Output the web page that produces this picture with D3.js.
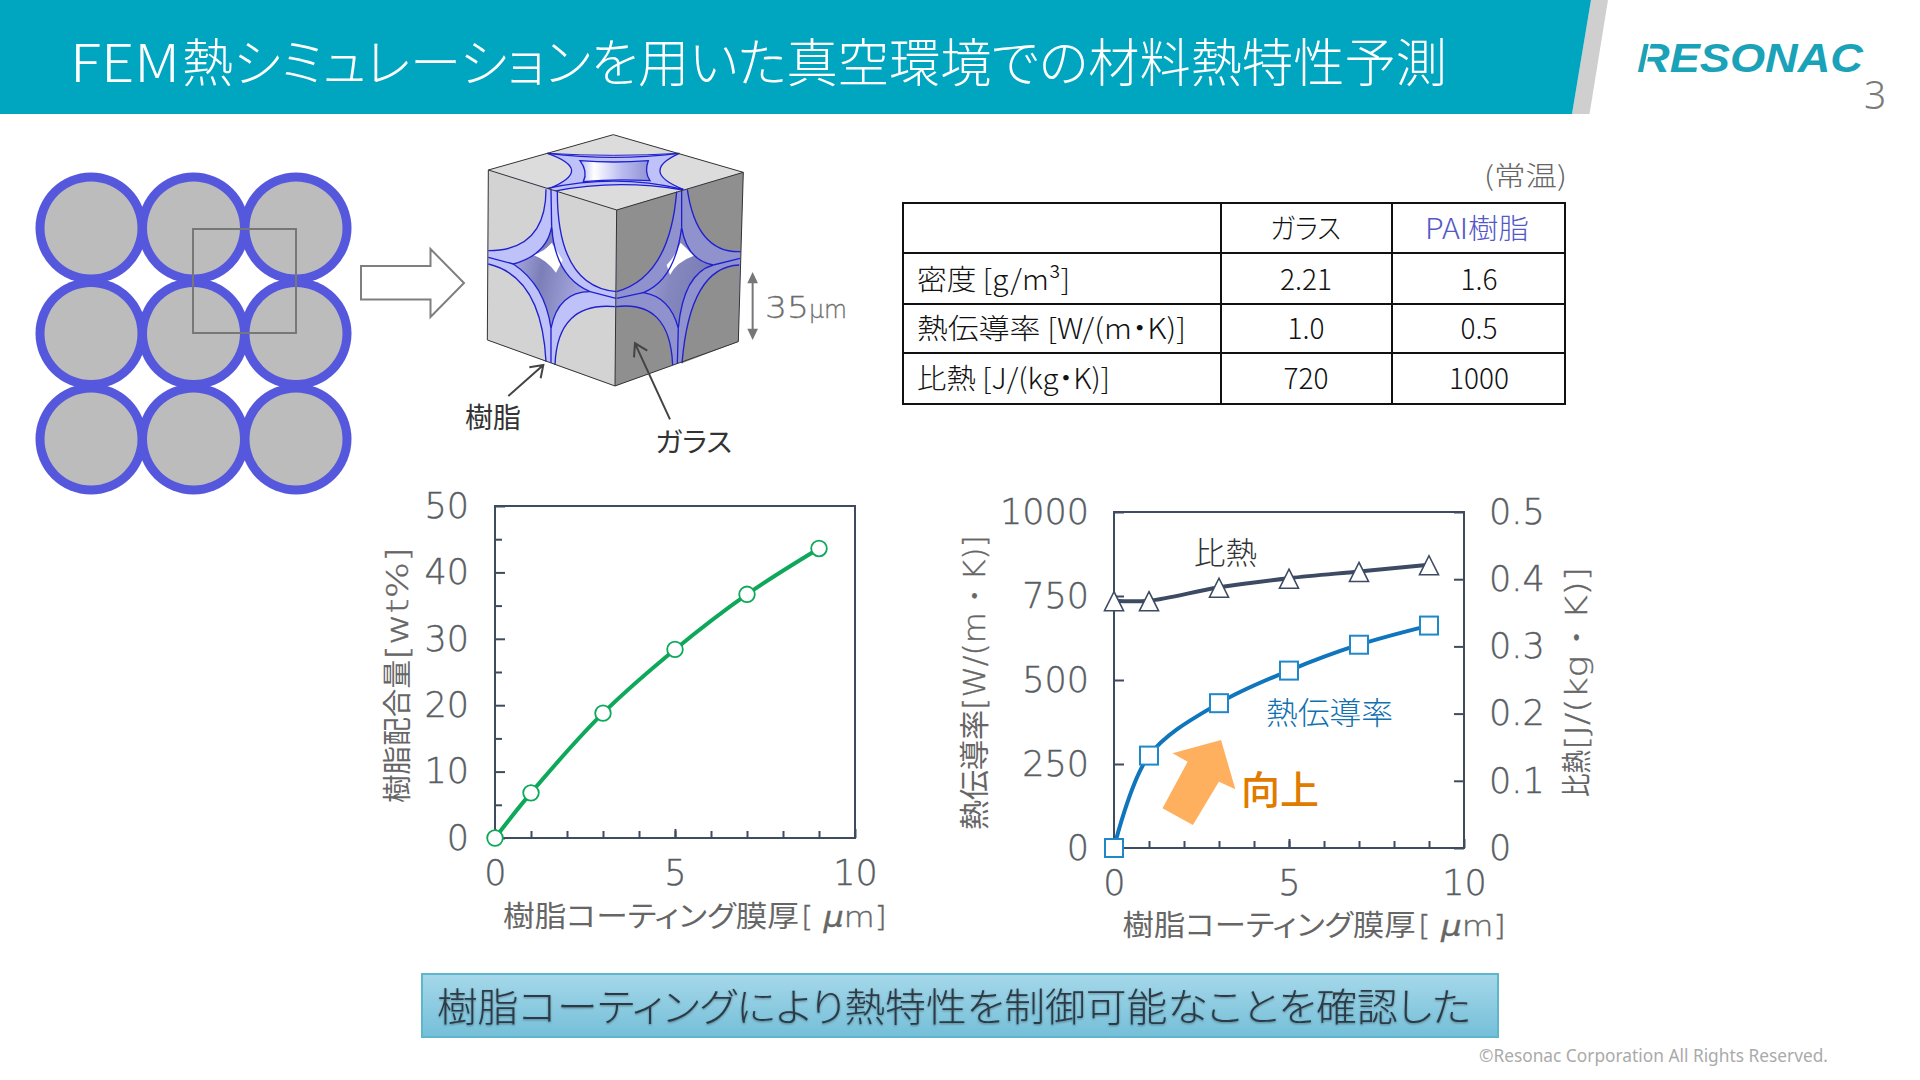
<!DOCTYPE html>
<html lang="ja"><head><meta charset="utf-8">
<script src="https://cdnjs.cloudflare.com/ajax/libs/d3/7.8.5/d3.min.js"></script>
<style>
html,body{margin:0;padding:0;background:#fff;overflow:hidden}
svg{display:block}
text{font-family:"Noto Sans CJK JP","Noto Sans",sans-serif;font-weight:400;font-feature-settings:"palt"}
</style></head><body>
<svg id="c" width="1920" height="1080" xmlns="http://www.w3.org/2000/svg"></svg>
<script>
// ---- data ----
const titlePrefix = "FEM";
const titleText = "熱シミュレーションを用いた真空環境での材料熱特性予測";
const conclusionText = "樹脂コーティングにより熱特性を制御可能なことを確認した";
const tableCols = ["", "ガラス", "PAI樹脂"];
const tableRowLabels = ["密度 [g/m³]", "熱伝導率 [W/(m・K)]", "比熱 [J/(kg・K)]"];
const glassProps = ["2.21", "1.0", "720"];
const resinProps = ["1.6", "0.5", "1000"];
const thickness = [0, 1, 3, 5, 7, 9];
const resinWt = [0, 6.8, 18.8, 28.4, 36.7, 43.6];
const specificHeat = [736, 736, 776, 803, 823, 843];
const conductivity = [0, 275, 431, 528, 605, 662];
const xTicks = [0, 5, 10];
const xMinor = [1, 2, 3, 4, 5, 6, 7, 8, 9];
const wtTicks = [0, 10, 20, 30, 40, 50];
const wtMinor = [5, 15, 25, 35, 45];
const leftTicks = [0, 250, 500, 750, 1000];
const rightTicks = [0, 0.1, 0.2, 0.3, 0.4, 0.5];

const svg = d3.select("#c");
const defs = svg.append("defs");
function grad(id, stops, x2, y2){
  const g = defs.append("linearGradient").attr("id", id).attr("x1",0).attr("y1",0).attr("x2",x2).attr("y2",y2);
  stops.forEach(s=>g.append("stop").attr("offset",s[0]).attr("stop-color",s[1]));
}
grad("boxG",[[0,"#A6D8EA"],[1,"#74BFD8"]],0,1);
grad("tubeL",[[0,"#AEB0E4"],[0.45,"#7C7EB8"],[1,"#A8AAE0"]],1,0.25);
grad("tubeR",[[0,"#A8AAE0"],[0.5,"#8587BF"],[1,"#7A7CB4"]],1,0.3);
grad("topG",[[0,"#B4B6EE"],[0.2,"#FFFFFF"],[0.6,"#B9BBEF"],[1,"#8F91D4"]],1,0);

const LATIN='"DejaVu Sans",sans-serif';
function label(p, x, y, s, o={}){
  const t = p.append("text").attr("x",x).attr("y",y).text(s)
    .attr("font-size",o.size||26).attr("fill",o.fill||"#222")
    .attr("text-anchor",o.anchor||"start");
  if(o.len) t.attr("textLength",o.len).attr("lengthAdjust",o.adjust||"spacingAndGlyphs");
  if(o.weight) t.style("font-weight",o.weight);
  if(o.family) t.style("font-family",o.family);
  if(o.style) t.style("font-style",o.style);
  if(o.stroke) t.attr("stroke",o.fill).attr("stroke-width",o.stroke);
  if(o.rot!==undefined) t.attr("transform",`rotate(${o.rot} ${x} ${y})`);
  return t;
}
function unitLabel(x, y, len){
  const t = svg.append("text").attr("x",x).attr("y",y).attr("font-size",29).attr("fill","#666")
    .attr("stroke","#666").attr("stroke-width",0.35)
    .attr("textLength",len).attr("lengthAdjust","spacingAndGlyphs")
    .style("font-family",LATIN).style("font-weight",200);
  t.append("tspan").text("[ ");
  t.append("tspan").text("μ").style("font-style","italic");
  t.append("tspan").text("m]");
}

// ---- header ----
svg.append("path").attr("d","M1591,0 L1608,0 L1589.5,114 L1572,114 Z").attr("fill","#CFCFCF");
svg.append("path").attr("d","M0,0 L1591,0 L1572,114 L0,114 Z").attr("fill","#00A5BF");
label(svg,70,82,titlePrefix,{size:52,fill:"#fff",len:110,weight:300});
label(svg,182,82,titleText,{size:52,fill:"#fff",len:1265,weight:300});
label(svg,1637,72,"RESONAC",{size:40,fill:"#19A2B8",len:226,weight:700,style:"italic",family:'"Liberation Sans",sans-serif'});
svg.append("line").attr("x1",1650).attr("y1",43).attr("x2",1644).attr("y2",72).attr("stroke","#fff").attr("stroke-width",2);
label(svg,1864,109,"3",{size:39,fill:"#7A7A7A",family:'"Noto Sans",sans-serif',weight:300});

// ---- particle grid ----
const gx = d3.scalePoint().domain([0,1,2]).range([91,296]);
const gy = d3.scalePoint().domain([0,1,2]).range([228,439]);
const cells = d3.cross([0,1,2],[0,1,2]);
const grid = svg.append("g");
grid.selectAll("circle.o").data(cells).join("circle").attr("class","o")
  .attr("cx",d=>gx(d[0])).attr("cy",d=>gy(d[1])).attr("r",55.5).attr("fill","#5558DC");
grid.selectAll("circle.i").data(cells).join("circle").attr("class","i")
  .attr("cx",d=>gx(d[0])).attr("cy",d=>gy(d[1])).attr("r",46.5).attr("fill","#BCBCBC");
grid.append("rect").attr("x",193).attr("y",229).attr("width",103).attr("height",104)
  .attr("fill","none").attr("stroke","#777").attr("stroke-width",2);
svg.append("path").attr("d","M361,266 H430.5 V249 L464,283 L430.5,317 V299.5 H361 Z")
  .attr("fill","#fff").attr("stroke","#7F7F7F").attr("stroke-width",2);

// ---- unit cell illustration (drawn in crop units) ----
const cube = svg.append("g").attr("transform","translate(470,120) scale(0.3333)");
const BL="#2020D0", BAND="#BEC2F8", BANDR="#9092CE", LT="#D3D3D3", TP="#DCDCDC", DK="#8F8F8F";
const fill=(d,f)=>cube.append("path").attr("d",d).attr("fill",f);
const blue=(d,w)=>cube.append("path").attr("d",d).attr("fill","none").attr("stroke",BL).attr("stroke-width",w||4);
const corner=(arc,close,f)=>{ fill(arc+close,f); blue(arc); };

// top face
fill("M430,44 L820,157 L440,270 L55,150 Z",TP);
fill("M232,100 L628,100 L640,208 L245,210 Z",BAND);
fill("M330,122 Q430,130 535,122 Q522,155 540,182 Q430,176 340,185 Q355,155 330,122 Z","url(#topG)");
blue("M330,122 Q430,130 535,122 Q522,155 540,182 Q430,176 340,185 Q355,155 330,122 Z");
corner("M232,100 Q376,150 235,207"," L55,150 Z",TP);
corner("M628,100 Q506,155 640,208"," L820,157 Z",TP);
corner("M232,100 Q430,124 628,100"," L430,44 Z",TP);
corner("M250,214 Q440,176 640,210"," L440,270 Z",TP);
blue("M232,205 Q440,160 640,208");
blue("M232,100 Q430,112 628,100",3);

// left face
fill("M55,150 L440,270 L435,798 L52,660 Z",BAND);
fill("M245,320 Q230,405 130,432 Q225,495 243,625 Q265,515 360,515 Q255,470 245,320 Z","url(#tubeL)");
fill("M190,405 Q222,395 245,368 L278,420 L258,458 Q230,420 190,405 Z","#fff");
fill("M245,368 Q255,335 245,320 Q238,372 215,395 Z","#8082B8");
blue("M245,320 Q230,405 130,432 Q225,495 243,625 Q265,515 360,515 Q255,470 245,320 Z");
corner("M228,208 Q228,392 55,392"," L55,150 Z",LT);
corner("M262,215 Q262,500 440,515"," L440,270 Z",LT);
corner("M55,432 Q215,470 228,725"," L52,660 Z",LT);
corner("M435,560 Q262,545 255,735"," L435,798 Z",LT);
blue("M243,208 L245,320 M55,412 L130,432 M243,625 L243,728 M360,515 L438,535");

// right face
fill("M440,270 L820,157 L805,665 L435,798 Z",BANDR);
fill("M635,322 Q650,420 730,435 Q640,460 625,625 Q600,530 520,518 Q615,480 635,322 Z","url(#tubeR)");
fill("M590,435 Q615,410 632,368 L672,407 Q620,425 600,465 Z","#fff");
blue("M635,322 Q650,420 730,435 Q640,460 625,625 Q600,530 520,518 Q615,480 635,322 Z");
corner("M620,215 Q600,470 440,515"," L440,270 Z",DK);
corner("M652,208 Q680,400 812,395"," L820,157 Z",DK);
corner("M438,560 Q600,540 608,735"," L435,798 Z",DK);
corner("M808,435 Q660,440 636,730"," L805,665 Z",DK);
blue("M635,210 L635,322 M625,625 L622,732 M440,535 L520,518 M730,435 L810,415");

// outline
cube.append("path").attr("d","M430,44 L820,157 L805,665 L435,798 L52,660 L55,150 Z M55,150 L440,270 L820,157 M440,270 L435,798")
  .attr("fill","none").attr("stroke","#333").attr("stroke-width",3);
// pointers
const ptr=(d)=>cube.append("path").attr("d",d).attr("fill","none").attr("stroke","#444").attr("stroke-width",6);
ptr("M115,828 L220,735 M178,742 L220,735 L212,775");
ptr("M600,898 L495,670 M492,712 L495,670 L532,692");
cube.append("path").attr("d","M848,480 V640").attr("stroke","#777").attr("stroke-width",6);
cube.append("path").attr("d","M848,456 L864,490 H832 Z M848,660 L864,626 H832 Z").attr("fill","#777");
label(svg,765,318,"35",{size:31,fill:"#6E6E6E",family:LATIN,len:44,weight:200,stroke:0.3});
label(svg,809,318,"µm",{size:24,fill:"#6E6E6E",family:LATIN,len:38,weight:200,stroke:0.3});
label(svg,465,428,"樹脂",{size:28,fill:"#333",len:56});
label(svg,655,452,"ガラス",{size:27,fill:"#333",len:77});

// ---- property table ----
const colX = [903,1221,1392,1565];
const rowY = [203,253,304,353,404];
const tb = svg.append("g");
tb.selectAll("line.r").data(rowY).join("line").attr("class","r")
  .attr("x1",colX[0]-1).attr("x2",colX[3]+1).attr("y1",d=>d).attr("y2",d=>d).attr("stroke","#111").attr("stroke-width",2);
tb.selectAll("line.c").data(colX).join("line").attr("class","c")
  .attr("x1",d=>d).attr("x2",d=>d).attr("y1",rowY[0]).attr("y2",rowY[4]).attr("stroke","#111").attr("stroke-width",2);
const rowBase = [290,339,389], labelLens=[153,269,193];
tableRowLabels.forEach((s,i)=>label(tb,917,rowBase[i],s,{size:28,fill:"#111",len:labelLens[i],weight:300}));
label(tb,1270,239,tableCols[1],{size:28,fill:"#111",len:71,weight:300});
label(tb,1425,239,tableCols[2],{size:28,fill:"#5558C8",len:104,weight:300});
glassProps.forEach((s,i)=>label(tb,1306,rowBase[i],s,{size:28,fill:"#111",anchor:"middle",weight:300}));
resinProps.forEach((s,i)=>label(tb,1479,rowBase[i],s,{size:28,fill:"#111",anchor:"middle",weight:300}));
label(svg,1484,186,"(常温)",{size:27,fill:"#666",len:83,weight:300});

// ---- charts ----
const AX="#3F4B5E", TK="#595E64";
function styleAxis(g){
  g.select(".domain").remove();
  g.selectAll("line").attr("stroke",AX).attr("stroke-width",2);
  g.selectAll("text").attr("fill",TK).attr("stroke",TK).attr("stroke-width",0.4).attr("font-size",35)
    .style("font-family",LATIN).style("font-weight",200);
}
function frame(L,R,T,B){
  svg.append("rect").attr("x",L).attr("y",T).attr("width",R-L).attr("height",B-T)
    .attr("fill","none").attr("stroke",AX).attr("stroke-width",2);
}
const fmtRight = d=> d===0 ? "0" : d3.format(".1f")(d);
const latinTitle={size:30,fill:"#666",family:LATIN,weight:200,stroke:0.35,rot:-90};

// chart 1
{
  const L=495,R=855,T=506,B=838;
  const x=d3.scaleLinear().domain([0,10]).range([L,R]);
  const y=d3.scaleLinear().domain([0,50]).range([B,T]);
  frame(L,R,T,B);
  svg.append("g").attr("transform",`translate(0,${B})`)
    .call(d3.axisBottom(x).tickValues(xMinor).tickSize(-7).tickFormat("")).call(styleAxis);
  svg.append("g").attr("transform",`translate(0,${B})`)
    .call(d3.axisBottom(x).tickValues(xTicks).tickSize(-9).tickPadding(22).tickFormat(d3.format("d"))).call(styleAxis);
  svg.append("g").attr("transform",`translate(${L},0)`)
    .call(d3.axisLeft(y).tickValues(wtMinor).tickSize(-7).tickFormat("")).call(styleAxis);
  svg.append("g").attr("transform",`translate(${L},0)`)
    .call(d3.axisLeft(y).tickValues(wtTicks).tickSize(-10).tickPadding(26).tickFormat(d3.format("d"))).call(styleAxis);
  const pts=thickness.map((t,i)=>[t,resinWt[i]]);
  const line=d3.line().x(d=>x(d[0])).y(d=>y(d[1])).curve(d3.curveCatmullRom);
  svg.append("path").attr("d",line(pts)).attr("fill","none").attr("stroke","#0DA85A").attr("stroke-width",4);
  svg.selectAll("circle.m1").data(pts).join("circle").attr("class","m1")
    .attr("cx",d=>x(d[0])).attr("cy",d=>y(d[1])).attr("r",7.8)
    .attr("fill","#fff").attr("stroke","#0DA85A").attr("stroke-width",1.8);
  label(svg,503,927,"樹脂コーティング膜厚",{size:29,fill:"#666",len:296});
  unitLabel(801,927,86);
  label(svg,408,803,"樹脂配合量",{size:29,fill:"#666",len:143,rot:-90});
  label(svg,408,660,"[wt%]",{...latinTitle,len:113});
}

// chart 2
{
  const L=1114,R=1464,T=512,B=848;
  const x=d3.scaleLinear().domain([0,10]).range([L,R]);
  const y=d3.scaleLinear().domain([0,1000]).range([B,T]);
  const y2=d3.scaleLinear().domain([0,0.5]).range([B,T]);
  frame(L,R,T,B);
  svg.append("g").attr("transform",`translate(0,${B})`)
    .call(d3.axisBottom(x).tickValues(xMinor).tickSize(-7).tickFormat("")).call(styleAxis);
  svg.append("g").attr("transform",`translate(0,${B})`)
    .call(d3.axisBottom(x).tickValues(xTicks).tickSize(-9).tickPadding(22).tickFormat(d3.format("d"))).call(styleAxis);
  svg.append("g").attr("transform",`translate(${L},0)`)
    .call(d3.axisLeft(y).tickValues(leftTicks).tickSize(-10).tickPadding(25).tickFormat(d3.format("d"))).call(styleAxis);
  svg.append("g").attr("transform",`translate(${R},0)`)
    .call(d3.axisRight(y2).tickValues(rightTicks).tickSize(-10).tickPadding(25).tickFormat(fmtRight)).call(styleAxis);

  const line=d3.line().x(d=>x(d[0])).y(d=>y(d[1])).curve(d3.curveCatmullRom);
  const heat=thickness.map((t,i)=>[t,specificHeat[i]]);
  const cond=thickness.map((t,i)=>[t,conductivity[i]]);
  svg.append("path").attr("d",line(heat)).attr("fill","none").attr("stroke","#3D4A63").attr("stroke-width",4);
  svg.append("path").attr("d",line(cond)).attr("fill","none").attr("stroke","#0F75BC").attr("stroke-width",4);
  svg.selectAll("path.tri").data(heat).join("path").attr("class","tri")
    .attr("transform",d=>`translate(${x(d[0])},${y(d[1])})`)
    .attr("d","M0,-9 L9.5,10 H-9.5 Z").attr("fill","#fff").attr("stroke","#3D4A63").attr("stroke-width",1.6);
  svg.selectAll("rect.sq").data(cond).join("rect").attr("class","sq")
    .attr("x",d=>x(d[0])-9).attr("y",d=>y(d[1])-9).attr("width",18).attr("height",18)
    .attr("fill","#fff").attr("stroke","#1E88C8").attr("stroke-width",2);
  // improvement arrow
  svg.append("g").attr("transform","translate(950,490) scale(0.4337,0.3333)").append("path")
    .attr("d","M625,750 L513,790 L548,815 L490,955 L560,1005 L620,875 L658,898 Z").attr("fill","#FFB05F");
  label(svg,1194,564,"比熱",{size:31,fill:"#333",len:63,weight:300});
  label(svg,1266,724,"熱伝導率",{size:31,fill:"#1070B0",len:127,weight:300});
  label(svg,1241,804,"向上",{size:39,fill:"#E07B00",weight:500,len:78});
  label(svg,1122.6,936,"樹脂コーティング膜厚",{size:29,fill:"#666",len:293});
  unitLabel(1418,936,88);
  label(svg,985,830,"熱伝導率",{size:30,fill:"#666",len:120,rot:-90});
  label(svg,985,710,"[W/(m・K)]",{...latinTitle,len:175});
  label(svg,1587,797,"比熱",{size:30,fill:"#666",len:47,rot:-90});
  label(svg,1587,750,"[J/(kg・K)]",{...latinTitle,len:183});
}

// ---- conclusion ----
svg.append("rect").attr("x",422).attr("y",974).attr("width",1076).attr("height",63)
  .attr("fill","url(#boxG)").attr("stroke","#5FB6CC").attr("stroke-width",2);
label(svg,437,1021,conclusionText,{size:39,fill:"#2B3A45",len:1034,weight:300})
  .style("filter","drop-shadow(0 1px 1px rgba(0,0,0,.35))");
label(svg,1479,1062,"©Resonac Corporation All Rights Reserved.",{size:18,fill:"#AAAAAA",len:349,family:'"Noto Sans",sans-serif'});
</script>
</body></html>
